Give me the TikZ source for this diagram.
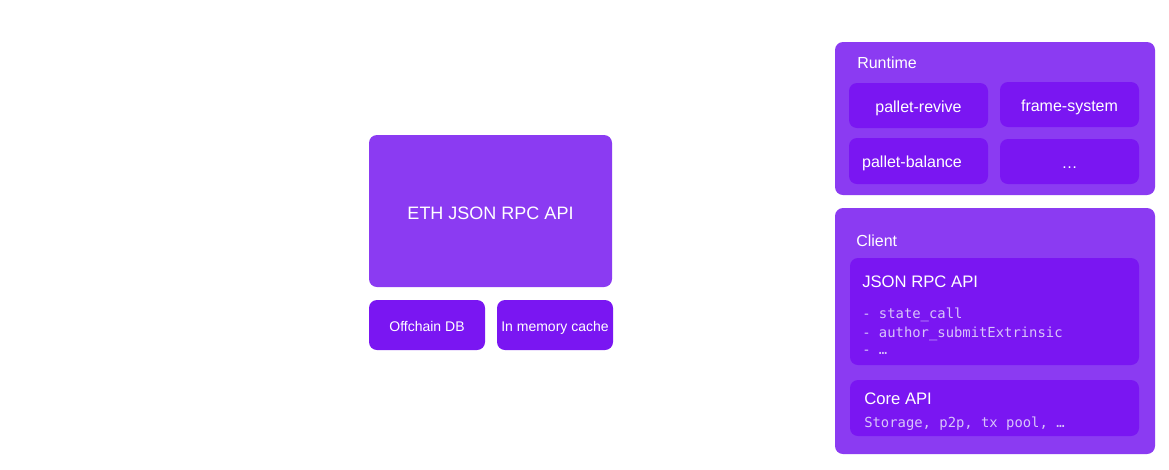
\documentclass[tikz,border=0pt]{standalone}
\usepackage{fontspec}
\setmainfont{Liberation Sans}
\newfontfamily\monof{DejaVu Sans Mono}
\definecolor{outerp}{HTML}{8B3BF2}
\definecolor{innerp}{HTML}{7A16F2}
\definecolor{monoc}{HTML}{D8C4FA}
\tikzset{
  outerbox/.style={fill=outerp, draw=none, rounded corners=6pt},
  innerbox/.style={fill=innerp, draw=none, rounded corners=6pt},
  lbl/.style={text=white, inner sep=0pt, anchor=west},
  clbl/.style={text=white, inner sep=0pt},
  mono/.style={text=monoc, inner sep=0pt, anchor=west, font=\monof\fontsize{10.4}{12}\selectfont},
}
\begin{document}
\begin{tikzpicture}[x=0.75pt,y=-0.75pt]
\useasboundingbox (0,0) rectangle (1169,469);
% left group
\path[outerbox] (369,135) rectangle (612,287);
\node[clbl, font=\fontsize{13.5}{16}\selectfont] (eth) at (490.5,213) {ETH JSON RPC API};
\path[innerbox] (369,300) rectangle (485,350);
\node[clbl, font=\fontsize{10.5}{12}\selectfont] (off) at (427,326) {Offchain DB};
\path[innerbox] (497,300) rectangle (613,350);
\node[clbl, font=\fontsize{10.5}{12}\selectfont] (mem) at (555,328) {In memory cache};
% runtime
\path[outerbox] (835,42) rectangle (1155,195);
\node[lbl, font=\fontsize{12}{14}\selectfont] (rt) at (857,63) {Runtime};
\path[innerbox] (849,83) rectangle (988,128);
\node[clbl, font=\fontsize{12}{14}\selectfont] (pr) at (918.5,108.5) {pallet-revive};
\path[innerbox] (1000,82) rectangle (1139,127);
\node[clbl, font=\fontsize{12}{14}\selectfont] (fs) at (1069.5,107.5) {frame-system};
\path[innerbox] (849,138) rectangle (988,184);
\node[clbl, font=\fontsize{12}{14}\selectfont] (pb) at (912,163.5) {pallet-balance};
\path[innerbox] (1000,139) rectangle (1139,184);
\node[text=white, inner sep=0pt, anchor=base, font=\fontsize{12}{14}\selectfont] (dots) at (1069.5,168) {…};
% client
\path[outerbox] (835,208) rectangle (1155,454);
\node[lbl, font=\fontsize{12}{14}\selectfont] (cl) at (856,241) {Client};
\path[innerbox] (850,258) rectangle (1139,365);
\node[lbl, font=\fontsize{12.5}{14}\selectfont] (jr) at (862,282) {JSON RPC API};
\node[mono] (m1) at (862,315) {- state\_call};
\node[mono] (m2) at (862,334) {- author\_submitExtrinsic};
\node[mono] (m3) at (862,352) {- …};
\path[innerbox] (850,380) rectangle (1139,436);
\node[lbl, font=\fontsize{12.5}{14}\selectfont] (ca) at (864,399) {Core API};
\node[mono] (m4) at (864,424) {Storage, p2p, tx pool, …};
\end{tikzpicture}
\end{document}
